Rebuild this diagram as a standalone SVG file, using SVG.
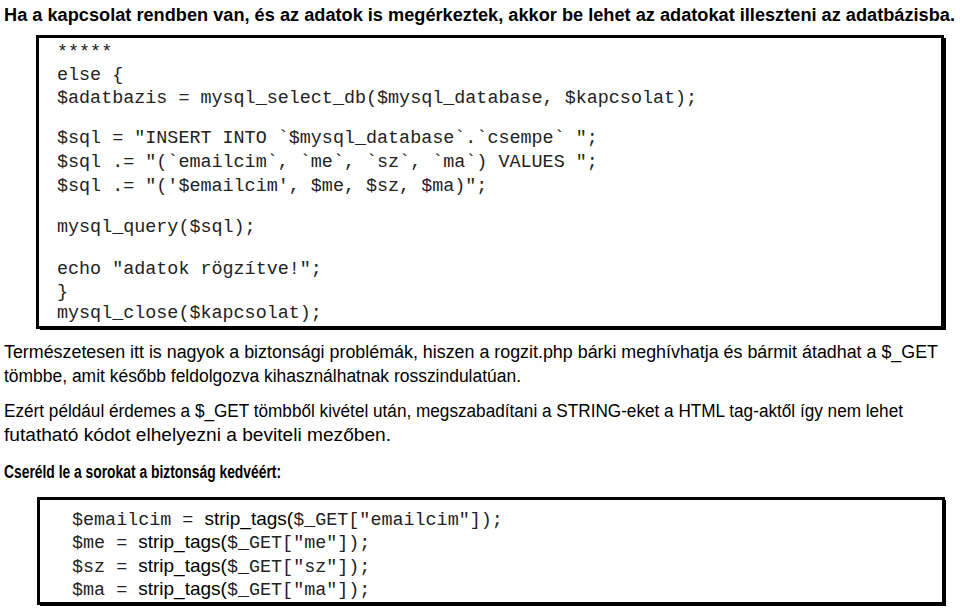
<svg xmlns="http://www.w3.org/2000/svg" width="960" height="608" viewBox="0 0 960 608">
<style>
.p{font-family:"Liberation Sans Narrow","Liberation Sans",Arial,sans-serif;font-size:18px;fill:#000}
.b{font-weight:bold}
.c{font-family:"Liberation Mono","Courier New",monospace;font-size:18.4px;fill:#222}
.s{font-family:"Liberation Sans Narrow","Liberation Sans",Arial,sans-serif;font-size:19px;fill:#000}
.box{fill:#fff;stroke:#000;stroke-width:3}
</style>
<rect width="960" height="608" fill="#fff"/>
<text class="p b" x="4" y="21" font-size="19" textLength="951" lengthAdjust="spacingAndGlyphs">Ha a kapcsolat rendben van, és az adatok is megérkeztek, akkor be lehet az adatokat illeszteni az adatbázisba.</text>
<g id="code1">
<rect x="40" y="38" width="906" height="292" fill="#000"/>
<rect class="box" x="37.5" y="36.5" width="905" height="291"/>
<text class="c" x="57" y="57">*****</text>
<text class="c" x="57" y="80">else {</text>
<text class="c" x="57" y="103">$adatbazis = mysql_select_db($mysql_database, $kapcsolat);</text>
<text class="c" x="57" y="143">$sql = "INSERT INTO `$mysql_database`.`csempe` ";</text>
<text class="c" x="57" y="167">$sql .= "(`emailcim`, `me`, `sz`, `ma`) VALUES ";</text>
<text class="c" x="57" y="191">$sql .= "('$emailcim', $me, $sz, $ma)";</text>
<text class="c" x="57" y="232">mysql_query($sql);</text>
<text class="c" x="57" y="274">echo "adatok rögzítve!";</text>
<text class="c" x="57" y="297">}</text>
<text class="c" x="57" y="318">mysql_close($kapcsolat);</text>
</g>
<g id="text">
<text class="p" x="4" y="358" textLength="934" lengthAdjust="spacingAndGlyphs">Természetesen itt is nagyok a biztonsági problémák, hiszen a rogzit.php bárki meghívhatja és bármit átadhat a $_GET</text>
<text class="p" x="4" y="382" textLength="517" lengthAdjust="spacingAndGlyphs">tömbbe, amit később feldolgozva kihasználhatnak rosszindulatúan.</text>
<text class="p" x="4" y="417" textLength="899" lengthAdjust="spacingAndGlyphs">Ezért például érdemes a $_GET tömbből kivétel után, megszabadítani a STRING-eket a HTML tag-aktől így nem lehet</text>
<text class="p" x="4" y="441" textLength="387" lengthAdjust="spacingAndGlyphs">futatható kódot elhelyezni a beviteli mezőben.</text>
<text class="p b" x="4" y="478" font-size="20" textLength="277" lengthAdjust="spacingAndGlyphs">Cseréld le a sorokat a biztonság kedvéért:</text>
</g>
<g id="code2">
<rect x="40" y="500" width="906" height="106" fill="#000"/>
<rect class="box" x="38.5" y="498.5" width="905" height="105"/>
<text x="72" y="525"><tspan class="c">$emailcim = </tspan><tspan class="s">strip_tags(</tspan><tspan class="c">$_GET["emailcim"]);</tspan></text>
<text x="72" y="548"><tspan class="c">$me = </tspan><tspan class="s">strip_tags(</tspan><tspan class="c">$_GET["me"]);</tspan></text>
<text x="72" y="572"><tspan class="c">$sz = </tspan><tspan class="s">strip_tags(</tspan><tspan class="c">$_GET["sz"]);</tspan></text>
<text x="72" y="595"><tspan class="c">$ma = </tspan><tspan class="s">strip_tags(</tspan><tspan class="c">$_GET["ma"]);</tspan></text>
</g>
</svg>
